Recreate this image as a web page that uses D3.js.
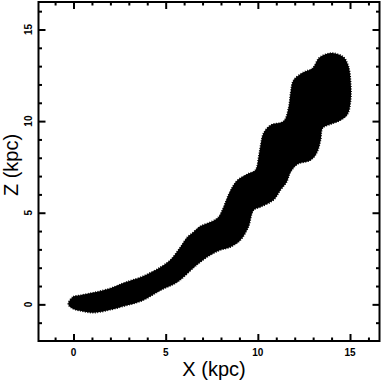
<!DOCTYPE html>
<html>
<head>
<meta charset="utf-8">
<script src="https://cdn.jsdelivr.net/npm/d3@7"></script>
<style>
  body { margin: 0; background: #fff; }
  svg { display: block; }
</style>
</head>
<body>
<script>
// outline of the particle cloud (kpc)
// goes up the upper/left edge from the tail, then back down the lower/right edge
const streamX = [-0.29, -0.02, 0.36, 1.07, 2.0, 2.81, 3.73, 4.71, 5.25, 5.80, 6.18, 6.50, 6.89, 7.43, 7.86,
  8.14, 8.35, 8.62, 8.90, 9.44, 9.87, 10.04, 10.15, 10.31, 10.69, 11.40, 11.67, 11.78, 11.94, 12.48,
  12.97, 13.30, 13.68, 14.11, 14.66, 14.93, 15.04, 15.04, 14.87, 14.49, 13.95, 13.52, 13.41, 13.19,
  12.86, 12.15, 11.78, 11.56, 11.23, 10.85, 10.14, 9.77, 9.49, 9.06, 8.52, 7.97, 7.43, 6.89, 6.50,
  5.64, 4.71, 3.73, 2.81, 2.0, 1.07, 0.36, -0.07]
const streamZ = [0.02, 0.42, 0.50, 0.64, 0.88, 1.20, 1.52, 2.03, 2.42, 3.13, 3.67, 3.94, 4.27, 4.49, 4.76,
  5.31, 5.85, 6.40, 6.78, 7.11, 7.33, 8.04, 8.69, 9.35, 9.78, 10.00, 10.76, 11.58, 12.24, 12.67,
  12.89, 13.43, 13.65, 13.71, 13.49, 12.95, 12.08, 11.15, 10.38, 10.05, 9.83, 9.62, 8.97, 8.25,
  7.87, 7.65, 7.22, 6.67, 6.24, 5.69, 5.31, 5.14, 4.22, 3.51, 3.13, 2.96, 2.69, 2.31, 1.98,
  1.22, 0.76, 0.20, -0.08, -0.30, -0.46, -0.35, -0.22]

const xMajor = [0, 5, 10, 15]
const zMajor = [0, 5, 10, 15]
const xMinor = [-1, 1, 2, 3, 4, 6, 7, 8, 9, 11, 12, 13, 14, 16]
const zMinor = [-1, 1, 2, 3, 4, 6, 7, 8, 9, 11, 12, 13, 14, 16]

const W = 382, H = 381
const x0 = 38.5, x1 = 379.5, y0 = 2, y1 = 341

const x = d3.scaleLinear().domain([-1.9, 16.6]).range([x0, x1])
const y = d3.scaleLinear().domain([-2, 16.5]).range([y1, y0])

const svg = d3.select("body").append("svg")
  .attr("width", W)
  .attr("height", H)

const pts = streamX.map((v, i) => [v, streamZ[i]])

svg.append("path")
  .datum(pts)
  .attr("d", d3.line()
    .x(d => x(d[0]))
    .y(d => y(d[1]))
    .curve(d3.curveCatmullRomClosed.alpha(0.5)))
  .attr("fill", "#000")
  .attr("stroke", "#000")
  .attr("stroke-width", 1.5)
  .attr("stroke-dasharray", "1 1.5")

// axes, ticks pointing inwards on all four sides
function tickAxis(axisFn, scale, vals, size, pos) {
  return svg.append("g")
    .attr("transform", pos)
    .call(axisFn(scale).tickValues(vals).tickSizeInner(-size).tickSizeOuter(0).tickFormat(""))
}

tickAxis(d3.axisBottom, x, xMajor, 7, `translate(0,${y1})`)
tickAxis(d3.axisBottom, x, xMinor, 3.5, `translate(0,${y1})`)
tickAxis(d3.axisTop, x, xMajor, 7, `translate(0,${y0})`)
tickAxis(d3.axisTop, x, xMinor, 3.5, `translate(0,${y0})`)
tickAxis(d3.axisLeft, y, zMajor, 7, `translate(${x0},0)`)
tickAxis(d3.axisLeft, y, zMinor, 3.5, `translate(${x0},0)`)
tickAxis(d3.axisRight, y, zMajor, 7, `translate(${x1},0)`)
tickAxis(d3.axisRight, y, zMinor, 3.5, `translate(${x1},0)`)

svg.selectAll(".domain").remove()
svg.selectAll(".tick line").attr("stroke", "#000").attr("stroke-width", 2)

svg.append("rect")
  .attr("x", x0).attr("y", y0)
  .attr("width", x1 - x0).attr("height", y1 - y0)
  .attr("fill", "none").attr("stroke", "#000").attr("stroke-width", 2)

const font = "'Liberation Sans', Arial, Helvetica, sans-serif"

svg.append("g").selectAll("text")
  .data(xMajor)
  .join("text")
  .attr("x", d => x(d))
  .attr("y", 356)
  .attr("text-anchor", "middle")
  .attr("font-family", font)
  .attr("font-weight", "bold")
  .attr("font-size", 10)
  .text(d => d)

svg.append("g").selectAll("text")
  .data(zMajor)
  .join("text")
  .attr("transform", d => `translate(32,${y(d)}) rotate(-90)`)
  .attr("text-anchor", "middle")
  .attr("font-family", font)
  .attr("font-weight", "bold")
  .attr("font-size", 10)
  .text(d => d)

svg.append("text")
  .attr("x", 214)
  .attr("y", 376)
  .attr("text-anchor", "middle")
  .attr("font-family", font)
  .attr("font-size", 20)
  .text("X (kpc)")

svg.append("text")
  .attr("transform", "translate(18,165) rotate(-90)")
  .attr("text-anchor", "middle")
  .attr("font-family", font)
  .attr("font-size", 20)
  .text("Z (kpc)")
</script>
</body>
</html>
